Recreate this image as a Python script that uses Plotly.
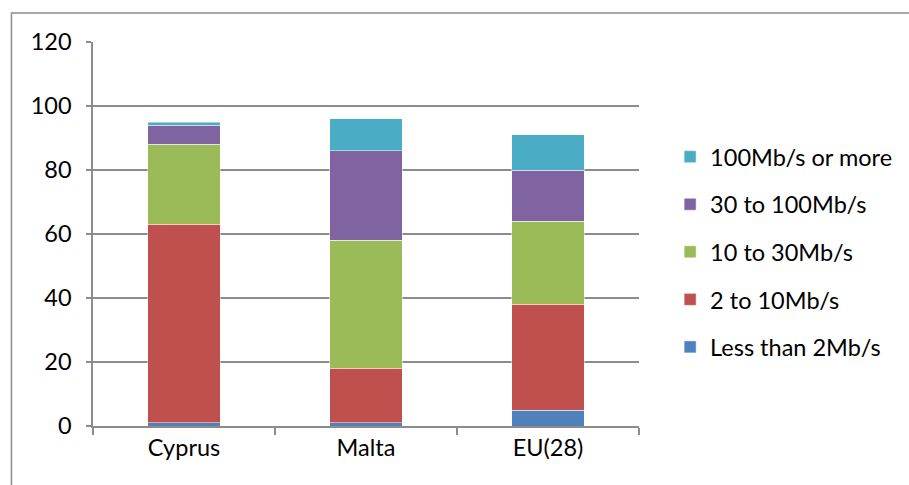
import plotly.graph_objects as go

# Share of fixed broadband subscriptions by advertised download speed (%)
countries = ["Cyprus", "Malta", "EU(28)"]
speed_bands = ["Less than 2Mb/s", "2 to 10Mb/s", "10 to 30Mb/s", "30 to 100Mb/s", "100Mb/s or more"]
less_than_2 = [1, 1, 5]
from_2_to_10 = [62, 17, 33]
from_10_to_30 = [25, 40, 26]
from_30_to_100 = [6, 28, 16]
from_100_up = [1, 10, 11]
y_ticks = [0, 20, 40, 60, 80, 100, 120]

series = [less_than_2, from_2_to_10, from_10_to_30, from_30_to_100, from_100_up]
colors = ["#4F81BD", "#C0504D", "#9BBB59", "#8064A2", "#4BACC6"]

FONT = "Lato, 'Open Sans', sans-serif"
FS = 23.5

fig = go.Figure()
for i, (name, vals, col) in enumerate(zip(speed_bands, series, colors)):
    fig.add_trace(go.Bar(
        name=name,
        x=countries,
        y=vals,
        marker=dict(color=col, line=dict(color="rgba(255,255,255,0.6)", width=0.8)),
        legendgroup=name,
        legendrank=len(speed_bands) - i,  # fastest band listed first
        width=0.4,
    ))

fig.update_layout(
    barmode="stack",
    width=909,
    height=485,
    margin=dict(l=93, r=267, t=42, b=59),
    paper_bgcolor="white",
    plot_bgcolor="white",
    font=dict(family=FONT, size=FS, color="#000000"),
    showlegend=True,
    legend=dict(
        x=1.057, xanchor="left",
        y=0.758, yanchor="top",
        traceorder="grouped",
        tracegroupgap=14,
        font=dict(family=FONT, size=FS, color="#000000"),
        bgcolor="rgba(0,0,0,0)",
    ),
    xaxis=dict(
        showline=True, linecolor="#8C8C8C", linewidth=1.5,
        ticks="outside", tickson="boundaries", ticklen=7, tickcolor="#8C8C8C", tickwidth=1.5,
        showgrid=False,
        tickfont=dict(family=FONT, size=FS),
    ),
    yaxis=dict(
        range=[0, 120],
        tickvals=y_ticks,
        showline=True, linecolor="#8C8C8C", linewidth=1.5,
        ticks="outside", ticklen=5, tickcolor="#8C8C8C", tickwidth=1.5,
        showgrid=True, gridcolor="#8C8C8C", gridwidth=1.5,
        zeroline=False,
        tickfont=dict(family=FONT, size=FS),
        ticklabelstandoff=10,
    ),
    shapes=[dict(
        type="rect", xref="paper", yref="paper",
        x0=(11 - 93) / 549, x1=1.7,
        y0=-0.4, y1=(426 - 13) / 384,
        line=dict(color="#8C8C8C", width=1.5),
        fillcolor="rgba(0,0,0,0)",
        layer="below",
    )],
)

fig.write_html("out.html")
